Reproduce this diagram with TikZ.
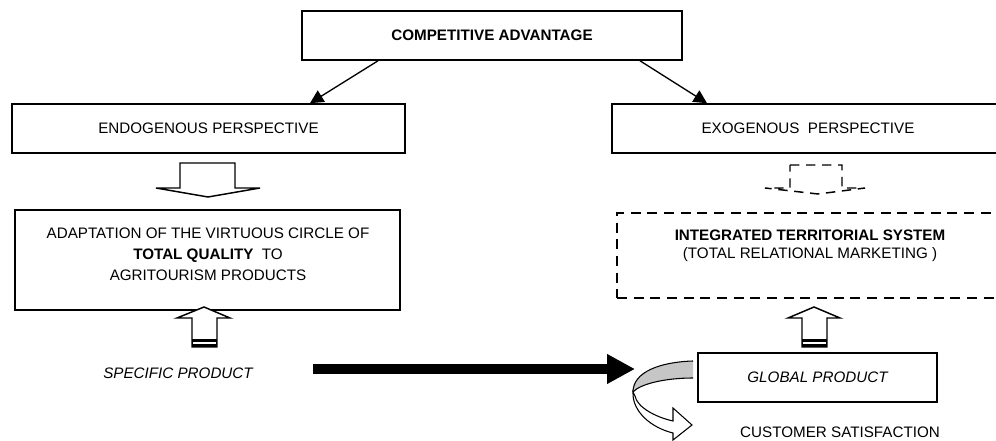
\documentclass[tikz,border=0pt]{standalone}
\usepackage{fontspec}
\setmainfont{Liberation Sans}
\usetikzlibrary{arrows.meta,calc}
\newcommand\fsz{\fontsize{11.4}{14}\selectfont}
\begin{document}
\begin{tikzpicture}[x=0.75pt,y=-0.75pt, font=\fsz,
  box/.style={draw, line width=1.2pt, rectangle, inner sep=0pt},
  dbox/.style={draw, line width=1.2pt, dash pattern=on 7.5pt off 5pt, rectangle, inner sep=0pt},
  hollow/.style={draw, line width=1.1pt, fill=white, line join=miter},
  conn/.style={line width=1pt, -{Triangle[length=10pt,width=10pt]}},
  txt/.style={inner sep=0pt, align=center}
]
\clip (0,0) rectangle (996,441);
\fill[white] (0,0) rectangle (996,441);

% boxes
\node[box, minimum width={380*0.75pt}, minimum height={49*0.75pt}, font=\fsz\bfseries] (top) at (492,35.5) {COMPETITIVE ADVANTAGE};
\node[box, minimum width={393*0.75pt}, minimum height={49*0.75pt}] (endo) at (208.5,128.5) {ENDOGENOUS PERSPECTIVE};
\node[box, minimum width={392*0.75pt}, minimum height={49*0.75pt}] (exo) at (808,128.5) {EXOGENOUS\ \ PERSPECTIVE};
\node[box, minimum width={385*0.75pt}, minimum height={100*0.75pt}] (adapt) at (207.5,260) {};
\node[txt, font=\fontsize{11.4}{15.75}\selectfont] (adapttxt) at (208,254) {ADAPTATION OF THE VIRTUOUS CIRCLE OF\\ \textbf{TOTAL QUALITY}\ \ TO\\ AGRITOURISM PRODUCTS};
\node[dbox, minimum width={386*0.75pt}, minimum height={85*0.75pt}] (integ) at (810,255.5) {};
\node[txt, font=\fontsize{11.4}{13.5}\selectfont] (integtxt) at (810,246) {\textbf{INTEGRATED TERRITORIAL SYSTEM}\\(TOTAL RELATIONAL MARKETING )};
\node[draw, line width=2.2pt, inner sep=0pt, minimum width={239*0.75pt}, minimum height={49*0.75pt}, font=\fsz\itshape] (glob) at (817.5,377.5) {GLOBAL PRODUCT};
\node[txt, font=\fsz\itshape] (spec) at (178,373) {SPECIFIC PRODUCT};
\node[txt] (cust) at (840,432) {CUSTOMER SATISFACTION};

% connectors from top box
\draw[conn] ($(top.south)+(-114,0)$) -- ($(endo.north)+(101.5,0)$);
\draw[conn] ($(top.south)+(148,0)$) -- ($(exo.north)+(-101,0)$);

% hollow down arrow (endogenous)
\draw[hollow] (180,163) -- (235,163) -- (235,188) -- (260,188) -- (208,197) -- (156,188) -- (180,188) -- cycle;
% dashed down arrow (exogenous)
\draw[hollow, dash pattern=on 7pt off 5pt] (790,165) -- (842,165) -- (842,188) -- (865,188) -- (818,194) -- (765,188) -- (790,188) -- cycle;

% hollow up arrows
\draw[hollow] (204,307) -- (230,318) -- (217,318) -- (217,347) -- (192,347) -- (192,318) -- (177,318) -- cycle;
\fill (192,339) rectangle (217,347.5);
\draw[white, line width=0.8pt] (193,343) -- (216,343);
\draw[hollow] (814,307) -- (840,318) -- (827,318) -- (827,347) -- (802,347) -- (802,318) -- (788,318) -- cycle;
\fill (802,339) rectangle (827,347.5);
\draw[white, line width=0.8pt] (803,343) -- (826,343);

% big black arrow
\coordinate (bigstart) at (313,369);
\coordinate (bigend) at (635,369);
\draw[line width=7.5pt, -{Triangle[length=21pt,width=21pt]}] (bigstart) -- (bigend);

% curved arrow
\fill[gray!45] (693,361) .. controls (660,362) and (633,372) .. (633,392) .. controls (640,384) and (665,378) .. (693,378) -- cycle;
\draw[line width=0.8pt] (693,361) .. controls (660,362) and (633,372) .. (633,392);
\draw[line width=0.8pt] (633,392) .. controls (640,384) and (665,378) .. (693,378);
\draw[line width=0.8pt, fill=white, line join=miter] (633,392) .. controls (632,412) and (652,428) .. (673,433) -- (673,440) -- (692,425) -- (673,408) -- (673,421) .. controls (655,417) and (637,407) .. (635,396) -- cycle;
\end{tikzpicture}
\end{document}
